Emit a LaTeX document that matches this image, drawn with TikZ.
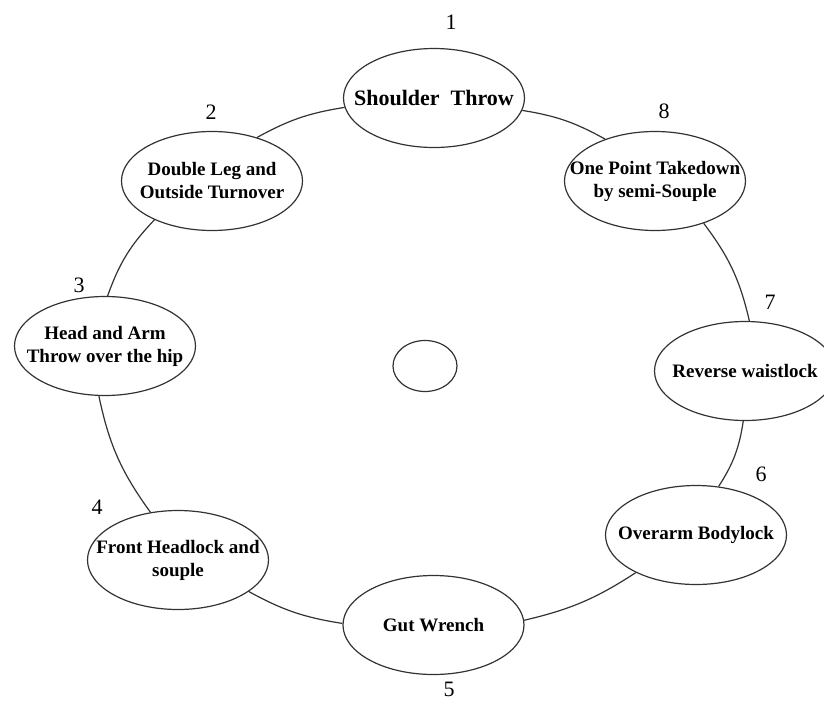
\documentclass[tikz,border=0pt]{standalone}
\usepackage{fontspec}
\setmainfont{Liberation Serif}
\usetikzlibrary{shapes.geometric}
\begin{document}
\begin{tikzpicture}[x=0.5pt,y=-0.5pt,
  mv/.style={ellipse,draw=black!80,line width=0.6pt,minimum width=90.5pt,minimum height=49.5pt,
    inner xsep=-14pt,inner ysep=0pt,align=center,font=\fontsize{9.5}{11.5}\selectfont\bfseries},
  num/.style={font=\fontsize{11}{13}\selectfont},
  link/.style={draw=black!80,line width=0.6pt}]
\useasboundingbox (0,0) rectangle (824,702);
\node[mv,font=\fontsize{11}{13}\selectfont\bfseries] (ST) at (434,98) {Shoulder\ \ Throw};
\node[mv] (DL) at (212,181) {Double Leg and\\Outside Turnover};
\node[mv] (HA) at (105,346) {Head and Arm\\Throw over the hip};
\node[mv] (FH) at (178,560) {Front Headlock and\\souple};
\node[mv] (GW) at (433.5,625) {Gut Wrench};
\node[mv] (OB) at (696,535) {Overarm Bodylock};
\node[mv] (RW) at (745,371) {Reverse waistlock};
\node[mv] (OP) at (655,181) {One Point Takedown\\by semi-Souple};
\node[ellipse,draw=black!80,line width=0.6pt,minimum width=32pt,minimum height=25.5pt] (C) at (425,366) {};
\node[num] (n1) at (451,22) {1};
\node[num] (n2) at (211,112) {2};
\node[num] (n3) at (79,285) {3};
\node[num] (n4) at (97,507) {4};
\node[num] (n5) at (449,689) {5};
\node[num] (n6) at (761,474) {6};
\node[num] (n7) at (770,302) {7};
\node[num] (n8) at (664,111) {8};
\draw[link] (ST.186) to[bend right=10] (DL.44);
\draw[link] (DL.214) to[bend right=12] (HA.87);
\draw[link] (HA.263) to[bend right=12] (FH.120);
\draw[link] (FH.336) to[bend right=10] (GW.179);
\draw[link] (GW.3) to[bend right=10] (OB.212);
\draw[link] (OB.65) to[bend right=12] (RW.268);
\draw[link] (RW.85) to[bend right=12] (OP.319);
\draw[link] (OP.140) to[bend right=10] (ST.352);
\end{tikzpicture}
\end{document}
